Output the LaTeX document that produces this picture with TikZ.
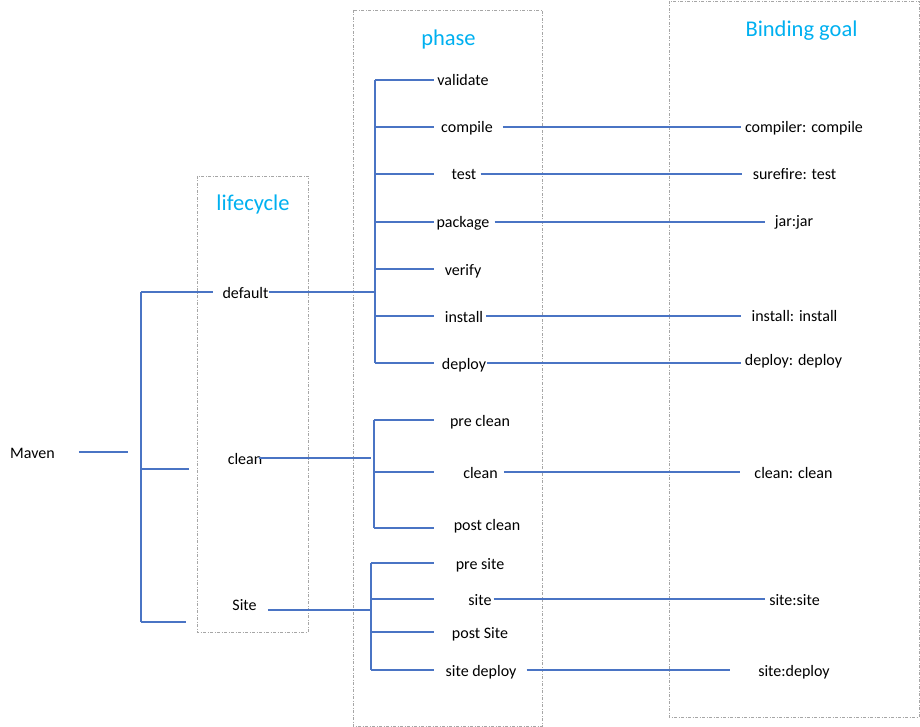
\documentclass[tikz,border=0pt]{standalone}
\usepackage{fontspec}
\setmainfont{Carlito}
\usepackage{xcolor}
\definecolor{wireblue}{HTML}{4A74C4}
\definecolor{titlecyan}{HTML}{00B0F0}
\tikzset{
  wire/.style={wireblue, line width=1.5pt},
  dashbox/.style={draw=black!35, line width=0.8pt, dash pattern=on 3pt off 1.5pt on 1pt off 1.5pt},
  lbl/.style={inner sep=0pt, text height=12pt, text depth=0pt, font=\fontsize{16}{19}\selectfont},
  ttl/.style={inner sep=0pt, anchor=base, text=titlecyan, font=\fontsize{22.5}{26}\selectfont},
}

\begin{document}
\begin{tikzpicture}[x=1pt,y=-1pt]
\useasboundingbox (0,0) rectangle (920,727);
% columns
\draw[dashbox] (197,176) rectangle (308,632);
\draw[dashbox] (353,10) rectangle (542,726);
\draw[dashbox] (669,1) rectangle (919,717);
\node[ttl] (t-lifecycle) at (253,211) {lifecycle};
\node[ttl] (t-phase) at (448.5,46) {phase};
\node[ttl] (t-goal) at (801.5,37) {Binding goal};
%
% lifecycles
\node[lbl] (maven) at (32.5,452) {Maven};
\node[lbl] (lc-default) at (245.5,292) {default};
\node[lbl] (lc-clean) at (245,458) {clean};
\node[lbl] (lc-site) at (244.5,604) {Site};
%
% phases
\node[lbl] (ph-validate) at (463,80) {validate};
\node[lbl] (ph-compile) at (467,127) {compile};
\node[lbl] (ph-test) at (464,174) {test};
\node[lbl] (ph-package) at (463,222) {package};
\node[lbl] (ph-verify) at (463,269) {verify};
\node[lbl] (ph-install) at (464,316) {install};
\node[lbl] (ph-deploy) at (464,363) {deploy};
\node[lbl] (ph-preclean) at (480,420) {pre clean};
\node[lbl] (ph-clean) at (480.5,472) {clean};
\node[lbl] (ph-postclean) at (487,524) {post clean};
\node[lbl] (ph-presite) at (480,563) {pre site};
\node[lbl] (ph-site) at (480,599) {site};
\node[lbl] (ph-postsite) at (480,632) {post Site};
\node[lbl] (ph-sitedeploy) at (481,670) {site deploy};
%
% goals
\node[lbl] (gl-compile) at (804,127) {compiler: compile};
\node[lbl] (gl-test) at (794.5,174) {surefire: test};
\node[lbl] (gl-package) at (794,221) {jar:jar};
\node[lbl] (gl-install) at (794.5,315) {install: install};
\node[lbl] (gl-deploy) at (793.5,359) {deploy: deploy};
\node[lbl] (gl-clean) at (793.5,472) {clean: clean};
\node[lbl] (gl-site) at (794.5,599) {site:site};
\node[lbl] (gl-sitedeploy) at (794,670) {site:deploy};
%
% Maven tree
\coordinate (lspine) at (141,293);
\coordinate (lbot) at (141,622);
\coordinate (lcleanin) at (189,469);
\coordinate (lsitein) at (186,622);
\draw[wire, shorten <=24pt, shorten >=13pt] (maven.east) -- (maven.east -| lspine);
\draw[wire] (lspine |- lc-default) -- (lbot);
\draw[wire, shorten >=9pt] (lspine |- lc-default) -- (lc-default.west);
\draw[wire] (lspine |- lcleanin) -- (lcleanin);
\draw[wire] (lbot) -- (lsitein);
%
% default tree
\coordinate (dspine) at (375,293);
\coordinate (dtip) at (434,80);
\draw[wire] (lc-default.east) -- (lc-default.east -| dspine);
\draw[wire] (dspine |- ph-validate) -- (dspine |- ph-deploy);
\foreach \p in {validate,compile,test,package,verify,install,deploy}
  \draw[wire] (dspine |- ph-\p) -- (dtip |- ph-\p);
%
% clean tree
\coordinate (cspine) at (374,458);
\coordinate (cbot) at (374,528);
\coordinate (ctip) at (434,420);
\draw[wire, shorten <=-3pt, shorten >=3pt] (lc-clean.east) -- (lc-clean.east -| cspine);
\draw[wire] (cspine |- ph-preclean) -- (cbot);
\draw[wire] (cspine |- ph-preclean) -- (ctip |- ph-preclean);
\draw[wire] (cspine |- ph-clean) -- (ctip |- ph-clean);
\draw[wire] (cbot) -- (ctip |- cbot);
%
% site tree
\coordinate (sjoin) at (371,610);
\coordinate (stip) at (434,563);
\draw[wire, shorten <=11pt] (lc-site.east |- sjoin) -- (sjoin);
\draw[wire] (sjoin |- ph-presite) -- (sjoin |- ph-sitedeploy);
\foreach \p in {presite,site,postsite,sitedeploy}
  \draw[wire] (sjoin |- ph-\p) -- (stip |- ph-\p);
%
% phase -> goal
\foreach \a/\s/\e in {compile/10pt/4pt, test/4pt/11pt, package/5pt/10pt, install/3pt/10pt,
    deploy/1pt/4pt, clean/6pt/14pt, site/2pt/4pt, sitedeploy/10pt/28pt}
  \draw[wire, shorten <=\s, shorten >=\e] (ph-\a.east) -- (ph-\a.east -| gl-\a.west);
\end{tikzpicture}
\end{document}
